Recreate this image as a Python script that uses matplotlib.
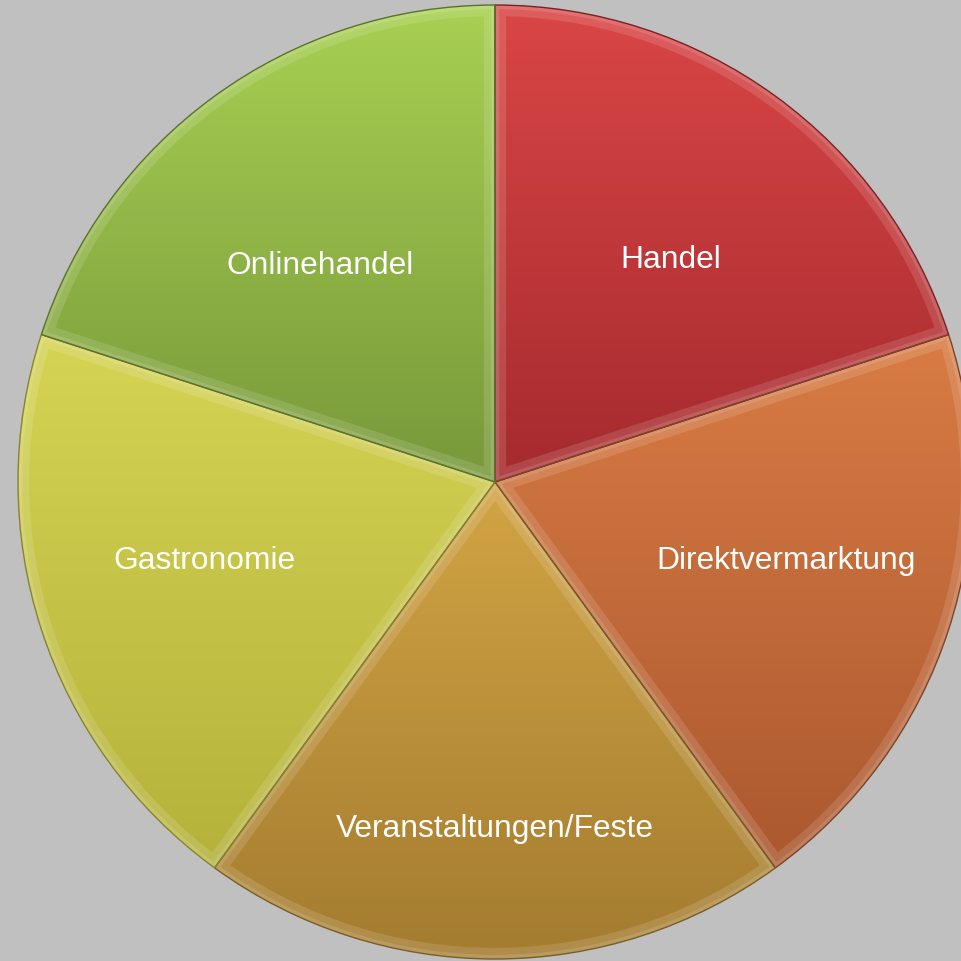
import numpy as np
import matplotlib
matplotlib.use("Agg")
import matplotlib.pyplot as plt
from matplotlib.colors import to_rgb
from matplotlib.patches import Wedge

# ---- data ----
categories = ["Handel", "Direktvermarktung", "Veranstaltungen/Feste", "Gastronomie", "Onlinehandel"]
values = [20, 20, 20, 20, 20]
colors_top = ["#da4646", "#d97c44", "#d2a444", "#d6d454", "#a8d052"]
colors_bottom = ["#a52a2e", "#ab5830", "#a47c30", "#b4b23a", "#78983a"]

# ---- layout ----
W = H = 961
CX, CY, R = 495, 961 - 482, 477
label_radius = [0.60, 0.63, 0.72, 0.63, 0.59]
label_angle_offset = [-2, 3.5, 0, -3.5, 2.5]
label_dy = -4

fig = plt.figure(figsize=(9.61, 9.61), dpi=100)
fig.patch.set_facecolor("#c0c0c0")
ax = fig.add_axes([0, 0, 1, 1])
ax.set_facecolor("#c0c0c0")

wedges, _ = ax.pie(values, startangle=90, counterclock=False, center=(CX, CY),
                   radius=R, frame=True)
ax.set_xlim(0, W)
ax.set_ylim(0, H)
ax.set_aspect("equal")
ax.axis("off")

for i, w in enumerate(wedges):
    w.set_facecolor("none")
    w.set_edgecolor("none")
    verts = w.get_patch_transform().transform(w.get_path().vertices)
    x0, x1 = verts[:, 0].min(), verts[:, 0].max()
    y0, y1 = verts[:, 1].min(), verts[:, 1].max()
    ct = np.array(to_rgb(colors_top[i]))
    cb = np.array(to_rgb(colors_bottom[i]))
    t = np.linspace(0, 1, 256)[:, None]
    grad = (ct[None, :] * (1 - t) + cb[None, :] * t)[:, None, :]
    im = ax.imshow(grad, extent=(x0, x1, y0, y1), origin="upper", aspect="auto",
                   zorder=1, interpolation="bilinear")
    im.set_clip_path(w)
    # bevel: light inner band and a dark thin outline
    band = Wedge((CX, CY), R, w.theta1, w.theta2, facecolor="none",
                 edgecolor=(1, 1, 1, 0.13), linewidth=16, zorder=2)
    ax.add_patch(band)
    band.set_clip_path(w)
    band2 = Wedge((CX, CY), R, w.theta1, w.theta2, facecolor="none",
                  edgecolor=(1, 1, 1, 0.12), linewidth=6, zorder=2)
    ax.add_patch(band2)
    band2.set_clip_path(w)
    outline = Wedge((CX, CY), R, w.theta1, w.theta2, facecolor="none",
                    edgecolor=tuple(cb * 0.75), linewidth=1.0, zorder=3)
    ax.add_patch(outline)

    mid = np.deg2rad((w.theta1 + w.theta2) / 2 + label_angle_offset[i])
    lx = CX + R * label_radius[i] * np.cos(mid)
    ly = CY + R * label_radius[i] * np.sin(mid) + label_dy
    ax.text(lx, ly, categories[i], ha="center", va="center", color="white",
            fontsize=22.9, family=["Liberation Sans", "DejaVu Sans"], zorder=5)

fig.savefig("out.png", dpi=100, facecolor=fig.get_facecolor())
